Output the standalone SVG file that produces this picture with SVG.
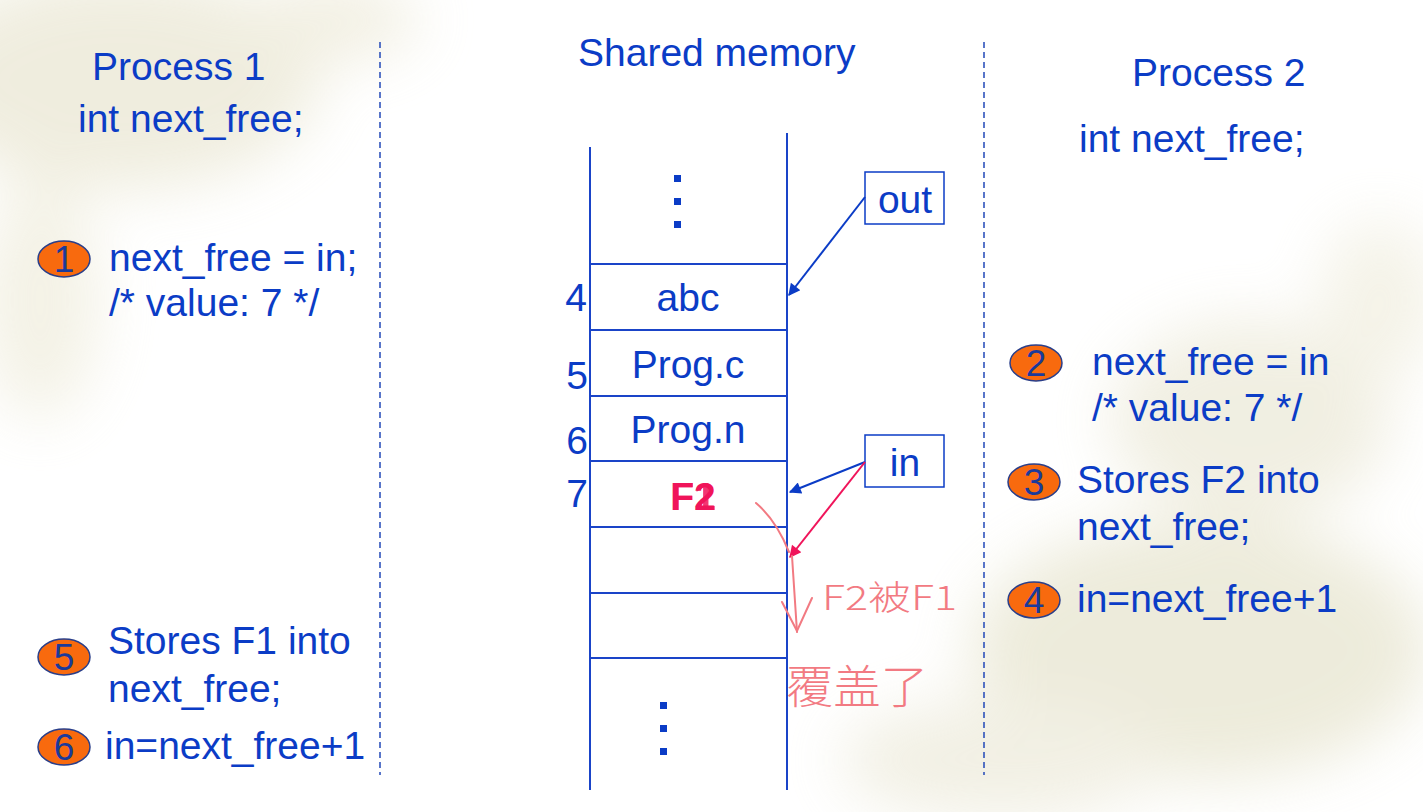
<svg xmlns="http://www.w3.org/2000/svg" width="1423" height="812" viewBox="0 0 1423 812">
<defs>
<style>
.t{font-family:"Liberation Sans",Arial,sans-serif;font-size:39px;fill:#0b3cc6}
.n{font-family:"Liberation Sans",Arial,sans-serif;font-size:37px;fill:#1a3a9a;text-anchor:middle}
.badge{fill:#f86a0e;stroke:#2a3f8a;stroke-width:1.5}
.mem{stroke:#1a44c8;stroke-width:2;fill:none}
.dash{stroke:#2248b8;stroke-width:1.5;stroke-dasharray:6 4}
.hw{font-family:"Noto Sans CJK SC","Noto Sans",sans-serif;fill:#f27a82;font-weight:300}
.hs{stroke:#f27a82;stroke-width:2;fill:none;stroke-linecap:round}
</style>
<marker id="ab" viewBox="0 0 10 10" refX="9" refY="5" markerWidth="14" markerHeight="12" orient="auto" markerUnits="userSpaceOnUse"><path d="M0,0 L10,5 L0,10 z" fill="#0b3cc6"/></marker>
<marker id="ap" viewBox="0 0 10 10" refX="9" refY="5" markerWidth="14" markerHeight="12" orient="auto" markerUnits="userSpaceOnUse"><path d="M0,0 L10,5 L0,10 z" fill="#f0145a"/></marker>
<filter id="blur" x="-50%" y="-50%" width="200%" height="200%"><feGaussianBlur stdDeviation="30"/></filter>
</defs>
<rect width="1423" height="812" fill="#ffffff"/>
<g id="background" filter="url(#blur)" opacity="0.45">
<ellipse cx="120" cy="80" rx="200" ry="110" fill="#ddd8b8"/>
<ellipse cx="40" cy="300" rx="60" ry="120" fill="#e6e2c8"/>
<ellipse cx="330" cy="20" rx="90" ry="40" fill="#e2ddc0"/>
<ellipse cx="1250" cy="420" rx="140" ry="100" fill="#e0dcc0"/>
<ellipse cx="1200" cy="650" rx="230" ry="130" fill="#d8d4b0"/>
<ellipse cx="1000" cy="760" rx="160" ry="60" fill="#e2dec4"/>
<ellipse cx="1380" cy="300" rx="60" ry="80" fill="#e8e4cc"/>
</g>
<g id="dividers">
<line class="dash" x1="380" y1="42" x2="380" y2="775"/>
<line class="dash" x1="984" y1="42" x2="984" y2="775"/>
</g>
<g id="headers">
<text class="t" x="92" y="80">Process 1</text>
<text class="t" x="78" y="132">int next_free;</text>
<text class="t" x="578" y="66">Shared memory</text>
<text class="t" x="1132" y="86">Process 2</text>
<text class="t" x="1079" y="152">int next_free;</text>
</g>
<g id="memory">
<line class="mem" x1="590" y1="147" x2="590" y2="790"/>
<line class="mem" x1="787" y1="133" x2="787" y2="790"/>
<line class="mem" x1="590" y1="264" x2="787" y2="264"/>
<line class="mem" x1="590" y1="330" x2="787" y2="330"/>
<line class="mem" x1="590" y1="396" x2="787" y2="396"/>
<line class="mem" x1="590" y1="461" x2="787" y2="461"/>
<line class="mem" x1="590" y1="527" x2="787" y2="527"/>
<line class="mem" x1="590" y1="593" x2="787" y2="593"/>
<line class="mem" x1="590" y1="658" x2="787" y2="658"/>
<g fill="#0b3cc6">
<rect x="674" y="175" width="7" height="7"/>
<rect x="674" y="198" width="7" height="7"/>
<rect x="674" y="221" width="7" height="7"/>
<rect x="660" y="702" width="7" height="7"/>
<rect x="660" y="725" width="7" height="7"/>
<rect x="660" y="748" width="7" height="7"/>
</g>
<text class="t" x="576" y="311" text-anchor="middle">4</text>
<text class="t" x="577" y="389" text-anchor="middle">5</text>
<text class="t" x="577" y="454" text-anchor="middle">6</text>
<text class="t" x="577" y="507" text-anchor="middle">7</text>
<text class="t" x="688" y="311" text-anchor="middle">abc</text>
<text class="t" x="688" y="378" text-anchor="middle">Prog.c</text>
<text class="t" x="688" y="443" text-anchor="middle">Prog.n</text>
<text class="t" x="693" y="510" text-anchor="middle" style="fill:#f0145a;font-weight:bold">F2</text>
<text class="t" x="693" y="510" text-anchor="middle" style="fill:#f0145a;font-weight:bold;opacity:0.85">F1</text>
</g>
<g id="out">
<rect x="865" y="172" width="79" height="52" fill="#ffffff" stroke="#0b3cc6" stroke-width="1.5"/>
<text class="t" x="905" y="213" text-anchor="middle">out</text>
</g>
<g id="in">
<rect x="865" y="435" width="79" height="52" fill="#ffffff" stroke="#0b3cc6" stroke-width="1.5"/>
<text class="t" x="905" y="476" text-anchor="middle">in</text>
</g>
<g id="connectors">
<line x1="865" y1="197" x2="789" y2="295" stroke="#0b3cc6" stroke-width="2" marker-end="url(#ab)"/>
<line x1="865" y1="462" x2="790" y2="492" stroke="#0b3cc6" stroke-width="2" marker-end="url(#ab)"/>
<line x1="865" y1="462" x2="790" y2="557" stroke="#f0145a" stroke-width="2" marker-end="url(#ap)"/>
</g>
<g id="annotation">
<path class="hs" d="M756,503 Q776,520 789,552"/>
<path class="hs" d="M792,556 L797,632"/>
<path class="hs" d="M782,602 L797,631 L812,598"/>
<text class="hw" x="822" y="610" font-size="34" textLength="135" lengthAdjust="spacingAndGlyphs">F2被F1</text>
<text class="hw" x="786" y="703" font-size="46" textLength="142" lengthAdjust="spacingAndGlyphs">覆盖了</text>
</g>
<g id="step1">
<ellipse class="badge" cx="64" cy="259" rx="26" ry="18"/>
<text class="n" x="64" y="272">1</text>
<text class="t" x="109" y="271">next_free = in;</text>
<text class="t" x="109" y="316">/* value: 7 */</text>
</g>
<g id="step2">
<ellipse class="badge" cx="1036" cy="363" rx="26" ry="18"/>
<text class="n" x="1036" y="376">2</text>
<text class="t" x="1092" y="375">next_free = in</text>
<text class="t" x="1092" y="421">/* value: 7 */</text>
</g>
<g id="step3">
<ellipse class="badge" cx="1034" cy="482" rx="26" ry="18"/>
<text class="n" x="1034" y="495">3</text>
<text class="t" x="1077" y="493">Stores F2 into</text>
<text class="t" x="1077" y="540">next_free;</text>
</g>
<g id="step4">
<ellipse class="badge" cx="1034" cy="600" rx="26" ry="18"/>
<text class="n" x="1034" y="613">4</text>
<text class="t" x="1077" y="612">in=next_free+1</text>
</g>
<g id="step5">
<ellipse class="badge" cx="64" cy="657" rx="26" ry="18"/>
<text class="n" x="64" y="670">5</text>
<text class="t" x="108" y="654">Stores F1 into</text>
<text class="t" x="108" y="702">next_free;</text>
</g>
<g id="step6">
<ellipse class="badge" cx="64" cy="747" rx="26" ry="18"/>
<text class="n" x="64" y="760">6</text>
<text class="t" x="105" y="759">in=next_free+1</text>
</g>
</svg>
